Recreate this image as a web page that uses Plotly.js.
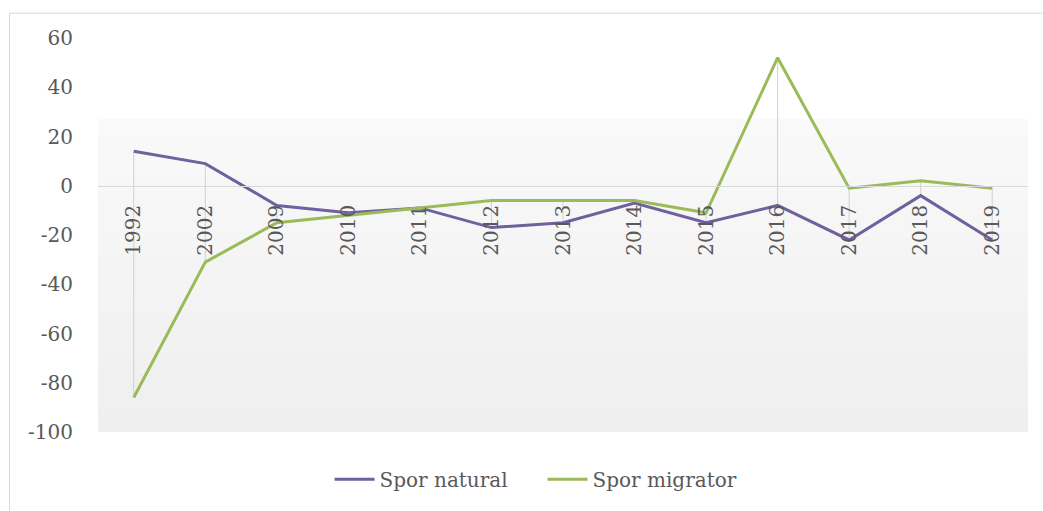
<!DOCTYPE html>
<html>
<head>
<meta charset="utf-8">
<script src="https://cdn.plot.ly/plotly-3.0.1.min.js"></script>
<style>html,body{margin:0;padding:0;background:#fff;}#chart{width:1043px;height:511px;}</style>
</head>
<body>
<div id="chart"></div>
<script>
const years = ['1992','2002','2009','2010','2011','2012','2013','2014','2015','2016','2017','2018','2019'];
const sporNatural = [14, 9, -8, -11, -9, -17, -15, -7, -15, -8, -22, -4, -22];
const sporMigrator = [-86, -31, -15, -12, -9, -6, -6, -6, -11, 52, -1, 2, -1];
const yTickVals = [-100, -80, -60, -40, -20, 0, 20, 40, 60];
const yTickLabels = ['-100', '-80', '-60', '-40', '-20', '0', '20', '40', '60'];
const seriesNames = ['Spor natural', 'Spor migrator'];

// high-low lines built from the two series
const hlX = [], hlY = [];
years.forEach((yr, i) => {
  hlX.push(yr, yr, null);
  hlY.push(Math.max(sporNatural[i], sporMigrator[i]), Math.min(sporNatural[i], sporMigrator[i]), null);
});

const font = {family: 'DejaVu Serif, Liberation Serif, serif', size: 20, color: '#595959'};

const traces = [
  {x: hlX, y: hlY, type: 'scatter', mode: 'lines', line: {color: '#d0d0d0', width: 1}, showlegend: false, hoverinfo: 'skip'},
  {x: years, y: sporNatural, name: seriesNames[0], type: 'scatter', mode: 'lines', line: {color: '#71609e', width: 3}, legend: 'legend'},
  {x: years, y: sporMigrator, name: seriesNames[1], type: 'scatter', mode: 'lines', line: {color: '#9bbb59', width: 3}, legend: 'legend2'}
];

const legendBase = {orientation: 'h', y: -0.12, yanchor: 'middle', xanchor: 'left', font: font, itemwidth: 40, bgcolor: 'rgba(0,0,0,0)'};

// soft vertical gradient for the background panel (styling only)
const bgShapes = [];
const nBands = 16;
for (let k = 0; k < nBands; k++) {
  const top = 27 - k * (127 / nBands);
  const g = Math.round(249 - k * (10 / (nBands - 1)));
  bgShapes.push({type: 'rect', xref: 'paper', yref: 'y', x0: 0, x1: 1, y0: -100, y1: top,
    fillcolor: 'rgb(' + g + ',' + g + ',' + g + ')', line: {width: 0}, layer: 'below'});
}

const layout = {
  width: 1043, height: 511,
  margin: {l: 98, r: 15, t: 38, b: 76},
  paper_bgcolor: '#ffffff', plot_bgcolor: 'rgba(0,0,0,0)',
  font: font,
  showlegend: true,
  legend: Object.assign({}, legendBase, {x: 0.249}),
  legend2: Object.assign({}, legendBase, {x: 0.478}),
  xaxis: {
    type: 'category', range: [-0.5, 12.5],
    anchor: 'free', position: 0.625,
    showline: true, linecolor: '#d9d9d9', linewidth: 1,
    showgrid: false, zeroline: false,
    tickangle: -90, ticks: 'outside', ticklen: 10, tickcolor: 'rgba(0,0,0,0)',
    tickfont: font
  },
  yaxis: {
    range: [-100, 60],
    tickvals: yTickVals, ticktext: yTickLabels,
    showgrid: false, zeroline: false, showline: false,
    ticks: 'outside', ticklen: 20, tickcolor: 'rgba(0,0,0,0)',
    tickfont: font
  },
  shapes: bgShapes.concat([
    {type: 'line', xref: 'paper', yref: 'paper', x0: -0.0952, x1: 1.02, y0: 1.063, y1: 1.063, line: {color: '#d9d9d9', width: 1}},
    {type: 'line', xref: 'paper', yref: 'paper', x0: -0.0952, x1: -0.0952, y0: 1.063, y1: -0.2, line: {color: '#d9d9d9', width: 1}}
  ]),
  hovermode: false
};

Plotly.newPlot('chart', traces, layout, {displayModeBar: false, staticPlot: true});
</script>
</body>
</html>
